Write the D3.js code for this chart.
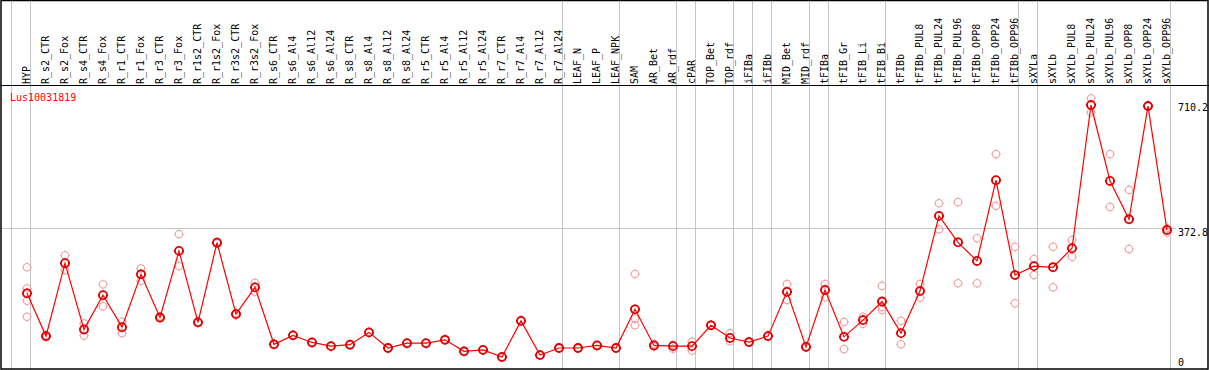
<!DOCTYPE html>
<html>
<head>
<meta charset="utf-8">
<script src="https://cdn.jsdelivr.net/npm/d3@7"></script>
<style>
  body { margin: 0; background: #fff; }
  text { font-family: "DejaVu Sans Mono", monospace; font-size: 10px; }
</style>
</head>
<body>
<svg id="svg" width="1209" height="370"></svg>
<script>
var geneName = "Lus10031819";

var categories = ["HYP", "R_s2_CTR", "R_s2_Fox", "R_s4_CTR", "R_s4_Fox", "R_r1_CTR", "R_r1_Fox",
  "R_r3_CTR", "R_r3_Fox", "R_r1s2_CTR", "R_r1s2_Fox", "R_r3s2_CTR", "R_r3s2_Fox", "R_s6_CTR",
  "R_s6_Al4", "R_s6_Al12", "R_s6_Al24", "R_s8_CTR", "R_s8_Al4", "R_s8_Al12", "R_s8_Al24",
  "R_r5_CTR", "R_r5_Al4", "R_r5_Al12", "R_r5_Al24", "R_r7_CTR", "R_r7_Al4", "R_r7_Al12",
  "R_r7_Al24", "LEAF_N", "LEAF_P", "LEAF_NPK", "SAM", "AR_Bet", "AR_rdf", "cPAR", "TOP_Bet",
  "TOP_rdf", "iFIBa", "iFIBb", "MID_Bet", "MID_rdf", "tFIBa", "tFIB_Gr", "tFIB_Li", "tFIB_Bi",
  "tFIBb", "tFIBb_PUL8", "tFIBb_PUL24", "tFIBb_PUL96", "tFIBb_OPP8", "tFIBb_OPP24",
  "tFIBb_OPP96", "sXYLa", "sXYLb", "sXYLb_PUL8", "sXYLb_PUL24", "sXYLb_PUL96", "sXYLb_OPP8",
  "sXYLb_OPP24", "sXYLb_OPP96"];

// mean expression per sample
var means = [198, 83, 279, 101, 193, 107, 249, 133, 312, 120, 334, 142, 214, 61,
  85, 66, 56, 60, 93, 51, 64, 64, 73, 42, 46, 27, 124, 32,
  51, 51, 58, 51, 155, 58, 56, 56, 112,
  78, 67, 83, 202, 54, 207, 81, 126, 176,
  91, 204, 406, 335, 285, 502,
  247, 271, 268, 319, 704, 500, 397,
  701, 368];

// individual replicates per sample
var replicates = [
  [268, 211, 178, 135], [80, 86], [300, 260], [117, 84], [222, 163], [122, 91], [265, 231],
  [131, 136], [357, 271], [118, 122], [332, 336], [140, 145], [226, 202], [60, 62],
  [84, 86], [65, 67], [55, 57], [59, 61], [92, 94], [50, 52], [63, 65],
  [63, 65], [72, 74], [41, 43], [45, 47], [26, 28], [123, 125], [31, 33],
  [50, 52], [50, 52], [57, 59], [50, 52], [250, 130, 112], [62, 55], [60, 49], [68, 44], [111, 113],
  [91, 69], [66, 68], [82, 84], [223, 180], [53, 56], [223, 187], [121, 48], [135, 116], [218, 161, 153],
  [124, 61], [223, 186], [440, 370], [443, 225], [346, 225], [572, 433],
  [323, 171], [290, 247], [323, 214], [341, 296], [722, 684], [572, 430], [476, 317],
  [700, 704], [373, 361]];

// last sample of each group (gray separators)
var groupEnds = ["HYP", "R_r7_Al24", "LEAF_NPK", "AR_rdf", "cPAR", "TOP_rdf", "iFIBa", "iFIBb",
  "MID_rdf", "tFIBa", "tFIB_Bi", "tFIBb_OPP96", "sXYLa", "sXYLb_OPP96"];

var yTicks = [0, 372.8, 710.2];

var svg = d3.select("#svg"),
  W = 1209,
  H = 370,
  headerH = 85.5,
  step = 19,
  x = d3
    .scalePoint()
    .domain(categories)
    .range([27, 27 + step * (categories.length - 1)]),
  y = d3
    .scaleLinear()
    .domain([0, 710.2])
    .range([367, 102.7]);

// group separators, incl. one before the first column
var sepX = [x(categories[0]) - step + 3.5].concat(groupEnds.map(function (c) {
  return x(c) + 3.5;
}));
svg.append("g")
  .selectAll("line")
  .data(sepX)
  .join("line")
  .attr("x1", function (d) { return d; })
  .attr("x2", function (d) { return d; })
  .attr("y1", 0)
  .attr("y2", H)
  .attr("stroke", "#c4c4c4")
  .attr("stroke-width", 1);

// gridline at middle tick
svg.append("line")
  .attr("x1", 1)
  .attr("x2", 1176)
  .attr("y1", Math.round(y(372.8)) + 0.5)
  .attr("y2", Math.round(y(372.8)) + 0.5)
  .attr("stroke", "#c4c4c4");

// frame
svg.append("rect")
  .attr("x", 1)
  .attr("y", 0.5)
  .attr("width", 1207)
  .attr("height", 368.5)
  .attr("fill", "none")
  .attr("stroke", "#000")
  .attr("stroke-width", 1.5);
svg.append("line")
  .attr("x1", 0)
  .attr("x2", W)
  .attr("y1", headerH)
  .attr("y2", headerH)
  .attr("stroke", "#000")
  .attr("stroke-width", 1.2);

// column labels
svg.append("g")
  .selectAll("text")
  .data(categories)
  .join("text")
  .attr("transform", function (d) {
    return "translate(" + (x(d) + 2.5) + "," + 84 + ") rotate(-90)";
  })
  .attr("fill", "#000")
  .text(function (d) { return d; });

// y labels on the right
svg.append("g")
  .selectAll("text")
  .data(yTicks)
  .join("text")
  .attr("x", 1178)
  .attr("y", function (d) { return Math.min(y(d) + 8, 365.5); })
  .attr("fill", "#000")
  .text(function (d) { return d; });

svg.append("text")
  .attr("x", 10)
  .attr("y", 100.5)
  .attr("fill", "#f00")
  .text(geneName);

function marker(r, t) {
  return "M" + (-r) + ",0a" + r + "," + r + " 0 1,0 " + 2 * r + ",0a" + r + "," + r + " 0 1,0 " + (-2 * r) + ",0" +
    "M0," + (-r - t) + "v" + t + "M0," + r + "v" + t +
    "M" + (-r - t) + ",0h" + t + "M" + r + ",0h" + t;
}

// replicates
var reps = [];
categories.forEach(function (c, i) {
  replicates[i].forEach(function (v) { reps.push([c, v]); });
});
svg.append("g")
  .selectAll("path")
  .data(reps)
  .join("path")
  .attr("transform", function (d) { return "translate(" + x(d[0]) + "," + y(d[1]) + ")"; })
  .attr("d", marker(3.8, 1))
  .attr("fill", "none")
  .attr("stroke", "#f09a9a")
  .attr("stroke-width", 1);

// mean line
svg.append("path")
  .attr("d", d3.line()
    .x(function (d, i) { return x(categories[i]); })
    .y(function (d) { return y(d); })(means))
  .attr("fill", "none")
  .attr("stroke", "#f00")
  .attr("stroke-width", 1.2);

svg.append("g")
  .selectAll("path")
  .data(means)
  .join("path")
  .attr("transform", function (d, i) { return "translate(" + x(categories[i]) + "," + y(d) + ")"; })
  .attr("d", marker(4, 1))
  .attr("fill", "none")
  .attr("stroke", "#e00000")
  .attr("stroke-width", 1.8);
</script>
</body>
</html>
